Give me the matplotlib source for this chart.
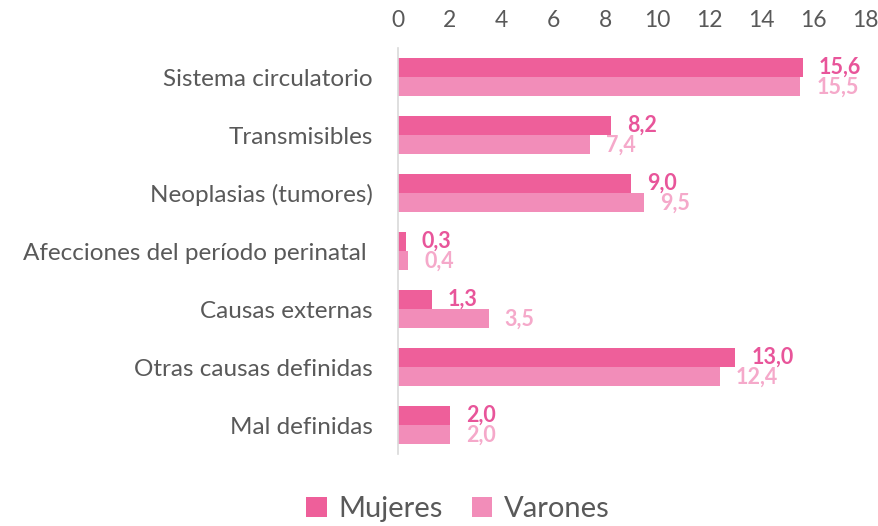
import matplotlib
matplotlib.use("Agg")
import matplotlib.pyplot as plt
import numpy as np

categories = ["Sistema circulatorio", "Transmisibles", "Neoplasias (tumores)",
              "Afecciones del período perinatal ", "Causas externas",
              "Otras causas definidas", "Mal definidas"]
mujeres = [15.6, 8.2, 9.0, 0.3, 1.3, 13.0, 2.0]
varones = [15.5, 7.4, 9.5, 0.4, 3.5, 12.4, 2.0]
xticks = [0, 2, 4, 6, 8, 10, 12, 14, 16, 18]

plt.rcParams['font.family'] = ['Lato', 'DejaVu Sans']

c_m = "#EE5F9A"
c_v = "#F28DB9"
lab_m = "#E8559A"
lab_v = "#F5A9CA"
txt = "#595959"

fig = plt.figure(figsize=(8.79, 5.26), dpi=100)
ax = fig.add_axes([398/879, 1-454/526, (865-398)/879, (454-48)/526])

y = np.arange(len(categories))
h = 0.335
ax.barh(y - h/2, mujeres, height=h, color=c_m, label="Mujeres")
ax.barh(y + h/2, varones, height=h, color=c_v, label="Varones")

for yi, v in zip(y, mujeres):
    ax.annotate(f"{v:.1f}".replace(".", ","), (v, yi - h/2), xytext=(11.5, 0),
                textcoords="offset points", va="center", ha="left",
                fontsize=15.5, fontweight="bold", color=lab_m)
for yi, v in zip(y, varones):
    ax.annotate(f"{v:.1f}".replace(".", ","), (v, yi + h/2), xytext=(11.5, 0),
                textcoords="offset points", va="center", ha="left",
                fontsize=15.5, fontweight="bold", color=lab_v)

ax.set_xlim(0, 18)
ax.set_ylim(6.5, -0.5)
ax.set_xticks(xticks)
ax.set_xticklabels([str(t) for t in xticks])
ax.set_yticks(y)
ax.set_yticklabels(categories)
ax.xaxis.tick_top()
ax.tick_params(axis="x", length=0, labelsize=16.5, colors=txt, pad=12)
ax.tick_params(axis="y", length=0, labelsize=17.5, colors=txt, pad=18)
for s in ["top", "right", "bottom"]:
    ax.spines[s].set_visible(False)
ax.spines["left"].set_color("#D9D9D9")
ax.spines["left"].set_linewidth(1.2)

leg = fig.legend(loc="center", bbox_to_anchor=(458/879, 1-509/526), ncol=2,
                 frameon=False, fontsize=21, handlelength=0.7, handleheight=0.7,
                 handletextpad=0.4, columnspacing=1.0)
for t in leg.get_texts():
    t.set_color(txt)

fig.savefig("out.png", dpi=100)
